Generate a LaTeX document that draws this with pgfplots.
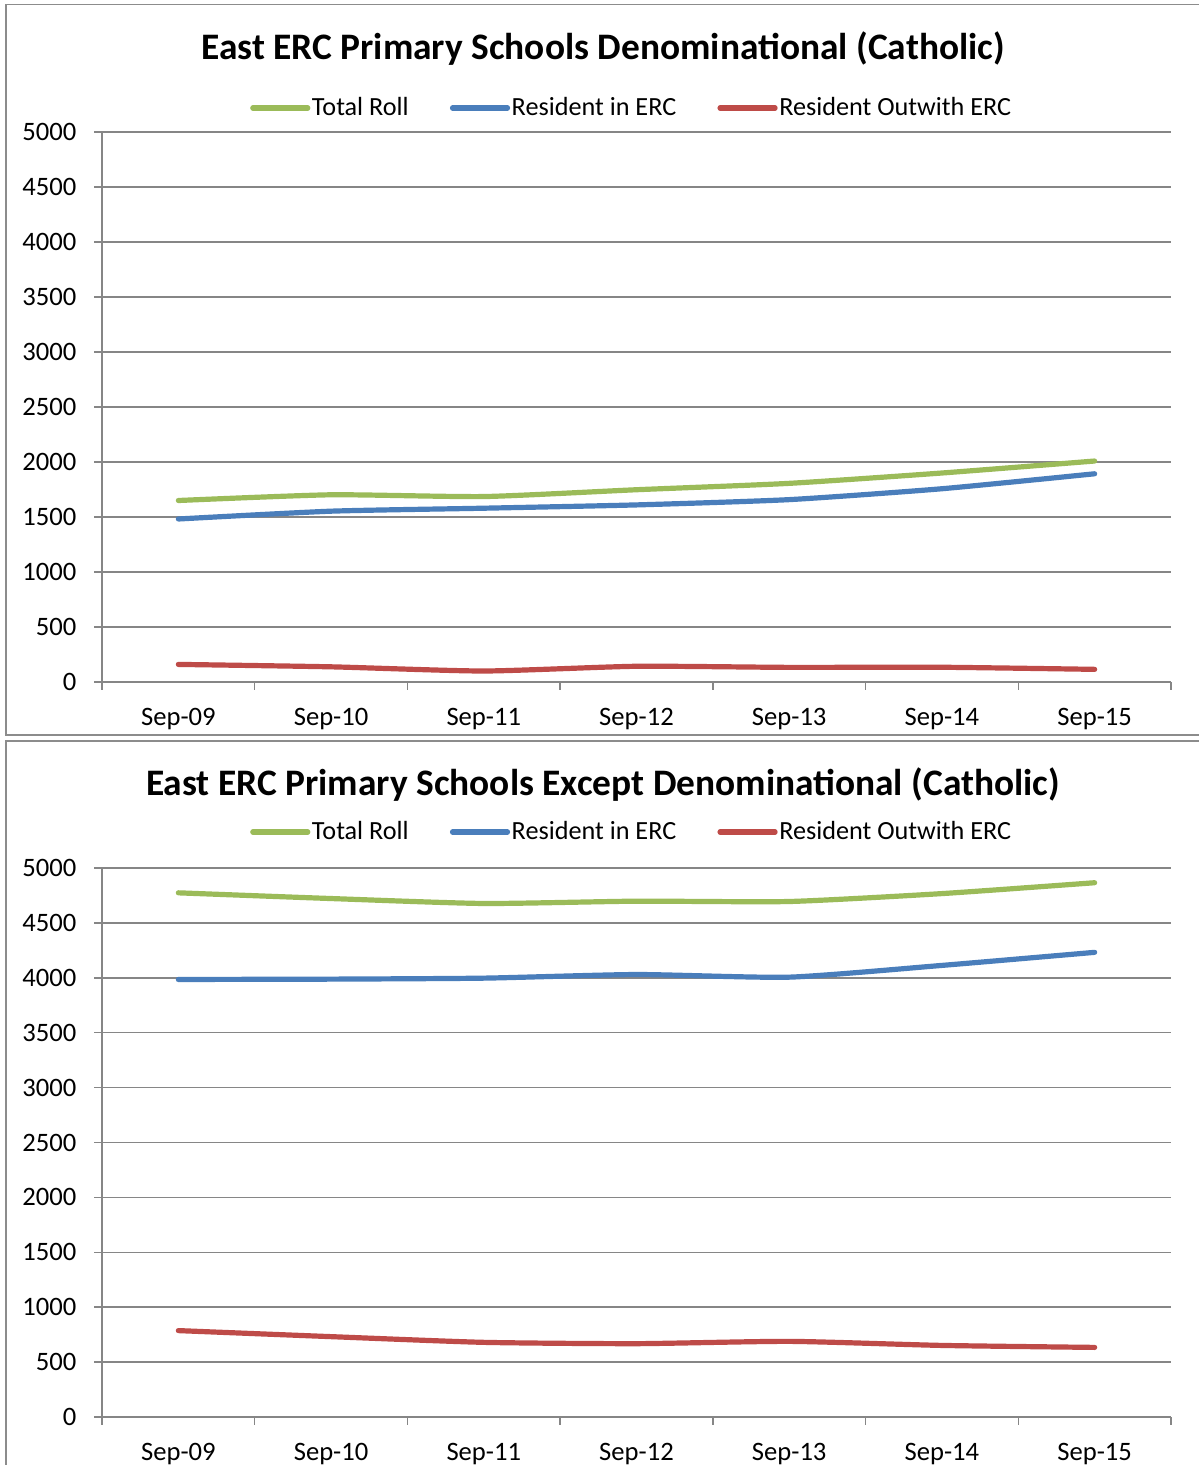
\documentclass[border=0pt]{standalone}
\usepackage{fontspec}
\setmainfont{Carlito}
\usepackage{pgfplots}
\pgfplotsset{compat=1.18}
\usepackage{pgfplotstable}

\definecolor{cgreen}{HTML}{9BBB59}
\definecolor{cblue}{HTML}{4A7EBB}
\definecolor{cred}{HTML}{BE4B48}
\definecolor{gridgray}{HTML}{868686}
\definecolor{framegray}{HTML}{8C8C8C}

\pgfplotstableread{
x total resident outwith
0 1650 1482 160
1 1702 1553 138
2 1686 1580 100
3 1748 1610 143
4 1806 1658 133
5 1900 1757 134
6 2009 1893 115
}\topdata

\pgfplotstableread{
x total resident outwith
0 4774 3985 787
1 4722 3988 732
2 4677 3997 680
3 4698 4030 668
4 4695 4006 689
5 4767 4113 652
6 4866 4232 634
}\botdata

\pgfplotsset{
  erc/.style={
    scale only axis, width=534.5pt,
    xmin=-0.5, xmax=6.5, ymin=0, ymax=5000,
    ytick={0,500,...,5000},
    xtick={-0.5,0.5,...,6.5},
    xticklabels={,,,,,,,,},
    extra x ticks={0,1,2,3,4,5,6},
    extra x tick labels={Sep-09,Sep-10,Sep-11,Sep-12,Sep-13,Sep-14,Sep-15},
    extra x tick style={tick style={draw=none}},
    axis x line*=bottom, axis y line*=left,
    axis line style={draw=gridgray, line width=0.75pt},
    ymajorgrids, grid style={draw=gridgray, line width=0.75pt},
    tick align=outside, major tick length=3.8pt,
    tick style={draw=gridgray, line width=0.75pt},
    /pgf/number format/assume math mode=true,
    /pgf/number format/set thousands separator={},
    ticklabel style={font=\fontsize{13.3}{16}\selectfont, text=black},
    yticklabel style={inner sep=0pt, xshift=-8.8pt},
    xticklabel style={inner sep=0pt, yshift=-9pt},
    legend columns=3,
    legend style={at={(0.5,1)}, anchor=center, yshift=12pt, xshift=-2.5pt, draw=none, fill=none,
      font=\fontsize{13.1}{16}\selectfont,
      nodes={inner sep=0.8pt},
      /tikz/every even column/.append style={column sep=19.8pt}},
    legend image code/.code={\draw[##1, line cap=round] (0pt,0pt) -- (27.5pt,0pt);},
    every axis plot/.append style={line width=2.6pt, line cap=round, line join=round, smooth, tension=0.35},
  }
}

\begin{document}
\begin{tikzpicture}
\useasboundingbox (0,0) rectangle (599pt,-732.5pt);
\draw[framegray, line width=0.9pt] (2.9pt,-2.3pt) rectangle (605pt,-367.3pt);
\draw[framegray, line width=0.9pt] (2.9pt,-370.4pt) rectangle (605pt,-740pt);

\begin{axis}[erc, height=275pt, at={(51pt,-341pt)}, anchor=south west]
\addplot[cgreen] table[x=x, y=total] {\topdata};
\addlegendentry{Total Roll}
\addplot[cblue] table[x=x, y=resident] {\topdata};
\addlegendentry{Resident in ERC}
\addplot[cred] table[x=x, y=outwith] {\topdata};
\addlegendentry{Resident Outwith ERC}
\end{axis}
\node[font=\fontsize{18.7}{21}\selectfont\bfseries] at (301.5pt,-24.5pt) {East ERC Primary Schools Denominational (Catholic)};

\begin{axis}[erc, height=274.5pt, at={(51pt,-708.5pt)}, anchor=south west,
  legend style={yshift=6pt}]
\addplot[cgreen] table[x=x, y=total] {\botdata};
\addlegendentry{Total Roll}
\addplot[cblue] table[x=x, y=resident] {\botdata};
\addlegendentry{Resident in ERC}
\addplot[cred] table[x=x, y=outwith] {\botdata};
\addlegendentry{Resident Outwith ERC}
\end{axis}
\node[font=\fontsize{18.7}{21}\selectfont\bfseries] at (301.5pt,-392.5pt) {East ERC Primary Schools Except Denominational (Catholic)};
\end{tikzpicture}
\end{document}
